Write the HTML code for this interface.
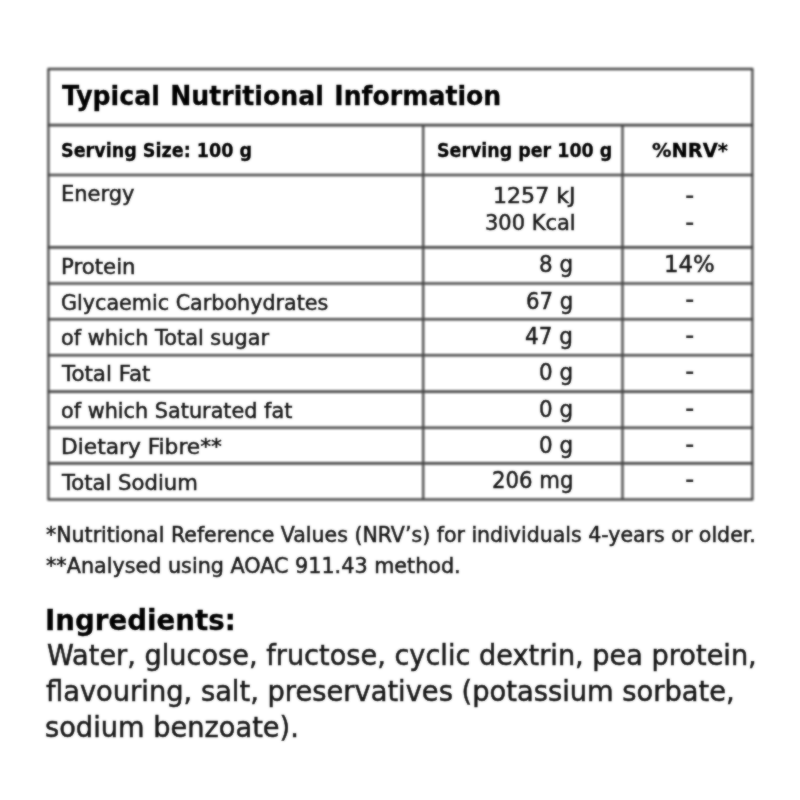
<!DOCTYPE html>
<html lang="en">
<head>
<meta charset="utf-8">
<title>Typical Nutritional Information</title>
<style>
html,body{margin:0;padding:0;background:#fff;}
body{width:800px;height:800px;position:relative;overflow:hidden;font-family:"DejaVu Sans","Liberation Sans",sans-serif;font-stretch:normal;color:#161616;}
.t{position:absolute;white-space:nowrap;line-height:1;transform-origin:0 0;-webkit-text-stroke:0.5px #161616;}
.b{font-weight:bold;color:#000;-webkit-text-stroke:0.3px #000;}
.d{color:#2a2a2a;-webkit-text-stroke:0;}
.grid{position:absolute;left:0;top:0;filter:blur(0.8px);}
.txt{position:absolute;left:0;top:0;width:800px;height:800px;filter:url(#soft);}
</style>
</head>
<body>
<svg width="0" height="0" style="position:absolute"><defs><filter id="soft" x="0" y="0" width="100%" height="100%" color-interpolation-filters="sRGB"><feGaussianBlur stdDeviation="0.8" result="b"/><feComposite in="b" in2="SourceGraphic" operator="arithmetic" k1="0" k2="0.55" k3="0.45" k4="0"/></filter></defs></svg>
<svg class="grid" width="800" height="800" viewBox="0 0 800 800">
<g stroke="#484848" stroke-width="2.6" fill="none">
<line x1="47.5" y1="69.00" x2="753.3" y2="69.00"/>
<line x1="47.5" y1="125.10" x2="753.3" y2="125.10"/>
<line x1="47.5" y1="175.00" x2="753.3" y2="175.00"/>
<line x1="47.5" y1="247.40" x2="753.3" y2="247.40"/>
<line x1="47.5" y1="283.50" x2="753.3" y2="283.50"/>
<line x1="47.5" y1="319.20" x2="753.3" y2="319.20"/>
<line x1="47.5" y1="355.30" x2="753.3" y2="355.30"/>
<line x1="47.5" y1="391.60" x2="753.3" y2="391.60"/>
<line x1="47.5" y1="427.80" x2="753.3" y2="427.80"/>
<line x1="47.5" y1="463.40" x2="753.3" y2="463.40"/>
<line x1="47.5" y1="499.50" x2="753.3" y2="499.50"/>
<line stroke-width="2.3" x1="48.4" y1="69.0" x2="48.4" y2="499.50"/>
<line stroke-width="2.3" x1="752.4" y1="69.0" x2="752.4" y2="499.50"/>
<line stroke-width="2.3" x1="423.2" y1="125.1" x2="423.2" y2="499.50"/>
<line stroke-width="2.3" x1="622.5" y1="125.1" x2="622.5" y2="499.50"/>
</g>
</svg>
<div class="txt">
<div id="title" class="t b" style="left:62.00px;top:82.75px;font-size:26.3px;word-spacing:1.8px;transform:scaleX(0.9571)">Typical Nutritional Information</div>
<div id="h1" class="t b" style="left:61.45px;top:140.80px;font-size:19.5px;transform:scaleX(0.9004)">Serving Size: 100 g</div>
<div id="h2" class="t b" style="left:436.66px;top:140.80px;font-size:19.5px;transform:scaleX(0.8944)">Serving per 100 g</div>
<div id="h3" class="t b" style="left:651.50px;top:140.90px;font-size:19.5px;transform:scaleX(0.9967)">%NRV*</div>
<div id="r1a" class="t" style="left:61.14px;top:182.70px;font-size:21.4px;transform:scaleX(0.9813)">Energy</div>
<div id="r1b" class="t" style="left:493.21px;top:186.20px;font-size:20.8px;transform:scaleX(1.0626)">1257 kJ</div>
<div id="r1c" class="t" style="left:484.99px;top:212.90px;font-size:20.8px;transform:scaleX(1.0081)">300 Kcal</div>
<div id="r1d" class="t b d" style="left:684.67px;top:188.22px;font-size:17px;transform:scaleX(1.3333)">-</div>
<div id="r1e" class="t b d" style="left:684.67px;top:214.72px;font-size:17px;transform:scaleX(1.3333)">-</div>
<div id="r2a" class="t" style="left:60.81px;top:255.50px;font-size:21.4px;transform:scaleX(0.9937)">Protein</div>
<div id="r2b" class="t" style="left:538.99px;top:253.41px;font-size:22.8px;transform:scaleX(0.9405)">8 g</div>
<div id="r2c" class="t" style="left:663.77px;top:253.28px;font-size:22.6px;transform:scaleX(1.0108)">14%</div>
<div id="r3a" class="t" style="left:60.59px;top:291.60px;font-size:21.4px;transform:scaleX(0.9670)">Glycaemic Carbohydrates</div>
<div id="r3b" class="t" style="left:525.80px;top:289.51px;font-size:22.8px;transform:scaleX(0.9312)">67 g</div>
<div id="r3c" class="t b d" style="left:684.67px;top:292.38px;font-size:17px;transform:scaleX(1.3333)">-</div>
<div id="r4a" class="t" style="left:60.58px;top:327.30px;font-size:21.4px;transform:scaleX(0.9743)">of which Total sugar</div>
<div id="r4b" class="t" style="left:525.26px;top:325.21px;font-size:22.8px;transform:scaleX(0.9424)">47 g</div>
<div id="r4c" class="t b d" style="left:684.67px;top:328.27px;font-size:17px;transform:scaleX(1.3333)">-</div>
<div id="r5a" class="t" style="left:61.70px;top:363.40px;font-size:21.4px;transform:scaleX(0.9989)">Total Fat</div>
<div id="r5b" class="t" style="left:538.99px;top:361.31px;font-size:22.8px;transform:scaleX(0.9405)">0 g</div>
<div id="r5c" class="t b d" style="left:684.67px;top:364.48px;font-size:17px;transform:scaleX(1.3333)">-</div>
<div id="r6a" class="t" style="left:60.59px;top:399.70px;font-size:21.4px;transform:scaleX(0.9719)">of which Saturated fat</div>
<div id="r6b" class="t" style="left:538.99px;top:397.61px;font-size:22.8px;transform:scaleX(0.9405)">0 g</div>
<div id="r6c" class="t b d" style="left:684.67px;top:400.73px;font-size:17px;transform:scaleX(1.3333)">-</div>
<div id="r7a" class="t" style="left:60.77px;top:435.90px;font-size:21.4px;transform:scaleX(1.0157)">Dietary Fibre**</div>
<div id="r7b" class="t" style="left:538.99px;top:433.81px;font-size:22.8px;transform:scaleX(0.9405)">0 g</div>
<div id="r7c" class="t b d" style="left:684.67px;top:436.62px;font-size:17px;transform:scaleX(1.3333)">-</div>
<div id="r8a" class="t" style="left:61.70px;top:471.50px;font-size:21.4px;transform:scaleX(0.9889)">Total Sodium</div>
<div id="r8b" class="t" style="left:491.87px;top:469.41px;font-size:22.8px;transform:scaleX(0.9305)">206 mg</div>
<div id="r8c" class="t b d" style="left:684.67px;top:472.47px;font-size:17px;transform:scaleX(1.3333)">-</div>
<div id="f1" class="t" style="left:46.15px;top:525.47px;font-size:20.6px;transform:scaleX(0.9966)">*Nutritional Reference Values (NRV’s) for individuals 4-years or older.</div>
<div id="f2" class="t" style="left:46.15px;top:555.77px;font-size:20.6px;transform:scaleX(1.0057)">**Analysed using AOAC 911.43 method.</div>
<div id="i0" class="t b" style="left:44.86px;top:606.14px;font-size:28.8px;transform:scaleX(0.9610)">Ingredients:</div>
<div id="i1" class="t" style="left:46.51px;top:641.74px;font-size:27.5px;transform:scaleX(0.9874)">Water, glucose, fructose, cyclic dextrin, pea protein,</div>
<div id="i2" class="t" style="left:46.40px;top:677.94px;font-size:27.5px;transform:scaleX(0.9929)">flavouring, salt, preservatives (potassium sorbate,</div>
<div id="i3" class="t" style="left:45.41px;top:714.13px;font-size:27.5px;transform:scaleX(0.9905)">sodium benzoate).</div>
</div>
</body>
</html>
